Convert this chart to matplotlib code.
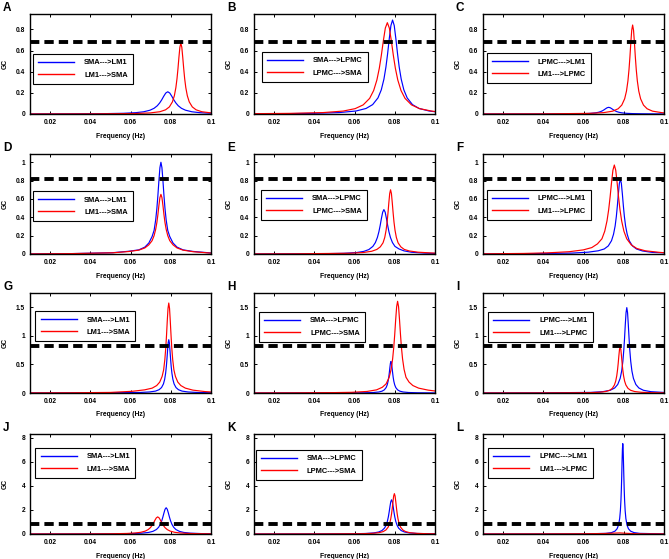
import matplotlib
matplotlib.use('Agg')
import matplotlib.pyplot as plt
from matplotlib.ticker import FuncFormatter, FixedLocator

plt.rcParams['font.family'] = ['Liberation Sans', 'DejaVu Sans']
plt.rcParams['font.weight'] = 'bold'

# ---------------- data (frequency in Hz, GC values) ----------------
A_blue_f = [0.01, 0.0305, 0.0465, 0.0565, 0.0625, 0.0665, 0.0697, 0.0717, 0.0733, 0.0745, 0.0755, 0.0765, 0.0775, 0.0785,
            0.0795, 0.0805, 0.0815, 0.0825, 0.0837, 0.0853, 0.0873, 0.0905, 0.0945, 0.1]
A_blue_gc = [0.0007, 0.0015, 0.0032, 0.0067, 0.0124, 0.021, 0.036, 0.054, 0.078, 0.105, 0.134, 0.168, 0.198, 0.21,
             0.198, 0.168, 0.134, 0.105, 0.078, 0.054, 0.036, 0.021, 0.0124, 0.007]
A_red_f = [0.01, 0.04, 0.0622, 0.0698, 0.07455, 0.0774, 0.0793, 0.08082, 0.08177, 0.08253, 0.0831, 0.08358, 0.08405, 0.08453, 0.085,
           0.08548, 0.08595, 0.08643, 0.0869, 0.08747, 0.08823, 0.08918, 0.0907, 0.0926, 0.09545, 0.1]
A_red_gc = [0.0004, 0.0012, 0.0046, 0.0103, 0.0214, 0.0394, 0.067, 0.1147, 0.1723, 0.249, 0.335, 0.429, 0.536, 0.631, 0.67,
            0.631, 0.536, 0.429, 0.335, 0.249, 0.1723, 0.1147, 0.067, 0.0394, 0.0214, 0.0106]

B_blue_f = [0.01, 0.025, 0.0393, 0.0525, 0.06075, 0.0657, 0.069, 0.07164, 0.07329, 0.07461, 0.0756, 0.07643, 0.07725, 0.07808, 0.0789,
            0.07973, 0.08055, 0.08138, 0.0822, 0.08319, 0.08451, 0.08616, 0.0888, 0.0921, 0.09705, 0.1]
B_blue_gc = [0.002, 0.0033, 0.0061, 0.0137, 0.0284, 0.0522, 0.0888, 0.152, 0.228, 0.330, 0.444, 0.568, 0.710, 0.836, 0.888,
             0.836, 0.710, 0.568, 0.444, 0.330, 0.228, 0.152, 0.0888, 0.0522, 0.0284, 0.0212]
B_red_f = [0.01, 0.0283, 0.0443, 0.0543, 0.0603, 0.0643, 0.0675, 0.0695, 0.0711, 0.0723, 0.0733, 0.0743, 0.0753, 0.0763,
           0.0773, 0.0783, 0.0793, 0.0803, 0.0815, 0.0831, 0.0851, 0.0883, 0.0923, 0.0983, 0.1]
B_red_gc = [0.0031, 0.006, 0.0133, 0.0276, 0.0507, 0.0863, 0.1477, 0.222, 0.321, 0.4315, 0.552, 0.690, 0.812, 0.863,
            0.812, 0.690, 0.552, 0.4315, 0.321, 0.222, 0.1477, 0.0863, 0.0507, 0.0276, 0.0239]

C_blue_f = [0.01, 0.0365, 0.0485, 0.056, 0.0605, 0.0635, 0.0659, 0.0674, 0.0686, 0.0695, 0.07025, 0.071, 0.07175, 0.0725,
            0.07325, 0.074, 0.07475, 0.0755, 0.0764, 0.0776, 0.0791, 0.0815, 0.0845, 0.089, 0.0965, 0.1]
C_blue_gc = [0.00015, 0.0004, 0.001, 0.002, 0.0037, 0.0063, 0.0108, 0.0162, 0.0234, 0.0315, 0.0403, 0.0504, 0.0593, 0.063,
             0.0593, 0.0504, 0.0403, 0.0315, 0.0234, 0.0162, 0.0108, 0.0063, 0.0037, 0.002, 0.001, 0.0007]
C_red_f = [0.01, 0.04, 0.0628, 0.070, 0.0745, 0.0772, 0.079, 0.08044, 0.08134, 0.08206, 0.0826, 0.08305, 0.0835, 0.08395, 0.0844,
           0.08485, 0.0853, 0.08575, 0.0862, 0.08674, 0.08746, 0.08836, 0.0898, 0.0916, 0.0943, 0.0988, 0.1]
C_red_gc = [0.0005, 0.0014, 0.0058, 0.013, 0.0269, 0.0495, 0.0841, 0.144, 0.216, 0.3126, 0.4205, 0.538, 0.673, 0.7915, 0.841,
            0.7915, 0.673, 0.538, 0.4205, 0.3126, 0.216, 0.144, 0.0841, 0.0495, 0.0269, 0.013, 0.011]

D_f = [0.01, 0.03, 0.0511, 0.0591, 0.0641, 0.0671, 0.0691, 0.0707, 0.0717, 0.0725, 0.0731, 0.0736, 0.0741, 0.0746, 0.0751,
       0.0756, 0.0761, 0.0766, 0.0771, 0.0777, 0.0785, 0.0795, 0.0811, 0.0831, 0.0861, 0.0911, 0.0991, 0.1]
D_blue_gc = [0.001, 0.004, 0.014, 0.030, 0.045, 0.075, 0.12, 0.19, 0.257, 0.372, 0.5, 0.64, 0.8, 0.941, 1.0,
             0.941, 0.8, 0.64, 0.5, 0.372, 0.257, 0.19, 0.12, 0.075, 0.045, 0.028, 0.013, 0.011]
D_red_gc = [0.001, 0.004, 0.013, 0.027, 0.042, 0.066, 0.1, 0.145, 0.2, 0.27, 0.345, 0.43, 0.53, 0.615, 0.65,
            0.615, 0.53, 0.43, 0.345, 0.27, 0.2, 0.145, 0.1, 0.066, 0.042, 0.025, 0.011, 0.01]

E_blue_f = [0.01, 0.0446, 0.0546, 0.06085, 0.0646, 0.0671, 0.0691, 0.07035, 0.07135, 0.0721, 0.07273, 0.07335, 0.07398, 0.0746,
            0.07523, 0.07585, 0.07648, 0.0771, 0.07785, 0.07885, 0.0801, 0.0821, 0.0846, 0.08835, 0.0946, 0.1]
E_blue_gc = [0.0007, 0.0033, 0.0075, 0.0155, 0.0285, 0.0484, 0.0829, 0.1244, 0.180, 0.242, 0.31, 0.387, 0.4555, 0.484,
             0.4555, 0.387, 0.31, 0.242, 0.180, 0.1244, 0.0829, 0.055, 0.034, 0.019, 0.010, 0.006]
E_red_f = [0.01, 0.03, 0.0575, 0.0643, 0.06855, 0.0711, 0.0728, 0.07416, 0.07501, 0.07569, 0.0762, 0.07663, 0.07705, 0.07748, 0.0779,
           0.07833, 0.07875, 0.07918, 0.0796, 0.08011, 0.08079, 0.08164, 0.083, 0.0847, 0.08725, 0.0915, 0.0983, 0.1]
E_red_gc = [0.001, 0.002, 0.008, 0.016, 0.03, 0.05, 0.078, 0.122, 0.18, 0.26, 0.35, 0.448, 0.56, 0.659, 0.70,
            0.659, 0.56, 0.448, 0.35, 0.26, 0.18, 0.122, 0.078, 0.05, 0.033, 0.02, 0.011, 0.01]

F_blue_f = [0.01, 0.03, 0.0543, 0.0623, 0.0673, 0.0703, 0.0723, 0.0739, 0.0749, 0.0757, 0.0763, 0.0768, 0.0773, 0.0778, 0.0783,
            0.0788, 0.0793, 0.0798, 0.0803, 0.0809, 0.0817, 0.0827, 0.0843, 0.0863, 0.0893, 0.0943, 0.1]
F_blue_gc = [0.001, 0.003, 0.01, 0.02, 0.035, 0.055, 0.088, 0.145, 0.215, 0.305, 0.4085, 0.523, 0.654, 0.769, 0.817,
             0.769, 0.654, 0.523, 0.4085, 0.305, 0.215, 0.145, 0.088, 0.055, 0.033, 0.017, 0.013]
F_red_f = [0.01, 0.03, 0.0417, 0.0529, 0.0599, 0.0641, 0.0669, 0.06914, 0.07054, 0.07166, 0.0725, 0.0732, 0.0739, 0.0746, 0.0753,
           0.076, 0.0767, 0.0774, 0.0781, 0.07894, 0.08006, 0.08146, 0.0837, 0.0865, 0.0907, 0.0977, 0.1]
F_red_gc = [0.002, 0.006, 0.012, 0.025, 0.045, 0.07, 0.11, 0.166, 0.249, 0.361, 0.485, 0.621, 0.776, 0.913, 0.97,
            0.913, 0.776, 0.621, 0.485, 0.361, 0.249, 0.166, 0.1, 0.06, 0.035, 0.018, 0.014]

G_blue_f = [0.01, 0.04, 0.055, 0.0646, 0.0694, 0.0724, 0.0742, 0.0754, 0.07636, 0.07696, 0.07744, 0.0778, 0.0781, 0.0784, 0.0787, 0.079,
            0.0793, 0.0796, 0.0799, 0.0802, 0.08056, 0.08104, 0.08164, 0.0826, 0.0838, 0.0856, 0.0886, 0.0934, 0.1]
G_blue_gc = [0.001, 0.003, 0.006, 0.009, 0.018, 0.033, 0.058, 0.095, 0.159, 0.239, 0.346, 0.465, 0.595, 0.744, 0.875, 0.93,
             0.875, 0.744, 0.595, 0.465, 0.346, 0.239, 0.159, 0.095, 0.058, 0.033, 0.018, 0.009, 0.005]
G_red_f = [0.01, 0.03, 0.05, 0.061, 0.067, 0.07075, 0.073, 0.0745, 0.0757, 0.07645, 0.07705, 0.0775, 0.07788, 0.07825, 0.07863, 0.079,
           0.07938, 0.07975, 0.08013, 0.0805, 0.08095, 0.08155, 0.0823, 0.0835, 0.085, 0.08725, 0.091, 0.097, 0.1]
G_red_gc = [0.002, 0.004, 0.01, 0.03, 0.055, 0.085, 0.13, 0.19, 0.29, 0.404, 0.584, 0.785, 1.005, 1.256, 1.478, 1.57,
            1.478, 1.256, 1.005, 0.785, 0.584, 0.404, 0.29, 0.19, 0.13, 0.085, 0.05, 0.025, 0.018]

H_blue_f = [0.01, 0.04, 0.0649, 0.0693, 0.07205, 0.0737, 0.0748, 0.07568, 0.07623, 0.07667, 0.077, 0.07728, 0.07755, 0.07783, 0.0781,
            0.07838, 0.07865, 0.07893, 0.0792, 0.07953, 0.07997, 0.08052, 0.0814, 0.0825, 0.08415, 0.0869, 0.0913, 0.1]
H_blue_gc = [0.0005, 0.002, 0.004, 0.0085, 0.0176, 0.0323, 0.055, 0.094, 0.141, 0.204, 0.275, 0.352, 0.44, 0.518, 0.55,
             0.518, 0.44, 0.352, 0.275, 0.204, 0.141, 0.094, 0.055, 0.0323, 0.0176, 0.0085, 0.004, 0.0014]
H_red_f = [0.01, 0.03, 0.05, 0.0586, 0.0662, 0.07095, 0.0738, 0.0757, 0.07722, 0.07817, 0.07893, 0.0795, 0.07998, 0.08045, 0.08093, 0.0814,
           0.08188, 0.08235, 0.08283, 0.0833, 0.08387, 0.08463, 0.08558, 0.0871, 0.089, 0.09185, 0.0966, 0.1]
H_red_gc = [0.001, 0.003, 0.007, 0.012, 0.027, 0.055, 0.1, 0.16, 0.274, 0.411, 0.595, 0.8, 1.024, 1.28, 1.506, 1.6,
            1.506, 1.28, 1.024, 0.8, 0.595, 0.411, 0.274, 0.19, 0.13, 0.085, 0.05, 0.035]

I_blue_f = [0.01, 0.04, 0.0635, 0.0695, 0.07325, 0.0755, 0.077, 0.0782, 0.07895, 0.07955, 0.08, 0.08038, 0.08075, 0.08113, 0.0815,
            0.08188, 0.08225, 0.08263, 0.083, 0.08345, 0.08405, 0.0848, 0.086, 0.0875, 0.08975, 0.0935, 0.1]
I_blue_gc = [0.001, 0.003, 0.0103, 0.023, 0.0477, 0.0876, 0.149, 0.255, 0.383, 0.554, 0.745, 0.954, 1.192, 1.402, 1.49,
             1.402, 1.192, 0.954, 0.745, 0.554, 0.383, 0.255, 0.149, 0.0876, 0.0477, 0.023, 0.0098]
I_red_f = [0.01, 0.04, 0.0626, 0.0678, 0.07105, 0.073, 0.0743, 0.07534, 0.07599, 0.07651, 0.0769, 0.07723, 0.07755, 0.07788, 0.0782,
           0.07853, 0.07885, 0.07918, 0.0795, 0.07989, 0.08041, 0.08106, 0.0821, 0.0834, 0.08535, 0.0886, 0.0938, 0.1]
I_red_gc = [0.0005, 0.002, 0.0056, 0.0125, 0.026, 0.0476, 0.081, 0.139, 0.208, 0.301, 0.405, 0.518, 0.648, 0.762, 0.81,
            0.762, 0.648, 0.518, 0.405, 0.301, 0.208, 0.139, 0.081, 0.0476, 0.026, 0.0125, 0.0056, 0.0028]

J_blue_f = [0.01, 0.03, 0.0513, 0.0601, 0.0656, 0.0689, 0.0711, 0.07286, 0.07396, 0.07484, 0.0755, 0.07605, 0.0766, 0.07715, 0.0777,
            0.07825, 0.0788, 0.07935, 0.0799, 0.08056, 0.08144, 0.08254, 0.0843, 0.0865, 0.0898, 0.0953, 0.1]
J_blue_gc = [0.002, 0.005, 0.015, 0.0336, 0.0698, 0.128, 0.218, 0.373, 0.560, 0.810, 1.09, 1.395, 1.744, 2.052, 2.18,
             2.052, 1.744, 1.395, 1.09, 0.810, 0.560, 0.373, 0.218, 0.128, 0.0698, 0.0336, 0.021]
J_red_f = [0.01, 0.025, 0.0399, 0.0511, 0.0581, 0.0623, 0.0651, 0.06734, 0.06874, 0.06986, 0.0707, 0.0714, 0.0721, 0.0728, 0.0735,
           0.0742, 0.0749, 0.0756, 0.0763, 0.07714, 0.07826, 0.07966, 0.0819, 0.0847, 0.0889, 0.0959, 0.1]
J_red_gc = [0.0028, 0.005, 0.0098, 0.0219, 0.0454, 0.0835, 0.142, 0.243, 0.365, 0.528, 0.71, 0.909, 1.136, 1.337, 1.42,
            1.337, 1.136, 0.909, 0.71, 0.528, 0.365, 0.243, 0.142, 0.0835, 0.0454, 0.0219, 0.0156]

K_blue_f = [0.01, 0.04, 0.0592, 0.0656, 0.0696, 0.072, 0.0736, 0.07488, 0.07568, 0.07632, 0.0768, 0.0772, 0.0776, 0.078, 0.0784,
            0.0788, 0.0792, 0.0796, 0.08, 0.08048, 0.08112, 0.08192, 0.0832, 0.0848, 0.0872, 0.0912, 0.0976, 0.1]
K_blue_gc = [0.002, 0.006, 0.0196, 0.0437, 0.0909, 0.167, 0.284, 0.486, 0.730, 1.056, 1.42, 1.818, 2.272, 2.673, 2.84,
             2.673, 2.272, 1.818, 1.42, 1.056, 0.730, 0.486, 0.284, 0.167, 0.0909, 0.0437, 0.0196, 0.0156]
K_red_f = [0.01, 0.04, 0.063, 0.0686, 0.0721, 0.0742, 0.0756, 0.07672, 0.07742, 0.07798, 0.0784, 0.07875, 0.0791, 0.07945, 0.0798,
           0.08015, 0.0805, 0.08085, 0.0812, 0.08162, 0.08218, 0.08288, 0.084, 0.0854, 0.0875, 0.091, 0.0966, 0.1]
K_red_gc = [0.002, 0.006, 0.0231, 0.0516, 0.107, 0.197, 0.335, 0.574, 0.861, 1.245, 1.675, 2.144, 2.68, 3.153, 3.35,
            3.153, 2.68, 2.144, 1.675, 1.245, 0.861, 0.574, 0.335, 0.197, 0.107, 0.0516, 0.0231, 0.016]

L_blue_f = [0.01, 0.04, 0.06, 0.0711, 0.0739, 0.07565, 0.0767, 0.0774, 0.07796, 0.07831, 0.07859, 0.0788, 0.07898, 0.07915, 0.07933, 0.0795,
            0.07968, 0.07985, 0.08003, 0.0802, 0.08041, 0.08069, 0.08104, 0.0816, 0.0823, 0.08335, 0.0851, 0.0879, 0.1]
L_blue_gc = [0.001, 0.003, 0.01, 0.0518, 0.1155, 0.24, 0.441, 0.75, 1.284, 1.928, 2.788, 3.75, 4.8, 6.0, 7.059, 7.5,
             7.059, 6.0, 4.8, 3.75, 2.788, 1.928, 1.284, 0.75, 0.441, 0.24, 0.1155, 0.0518, 0.009]
L_red_f = [0.01, 0.04, 0.06, 0.07, 0.075, 0.078, 0.081, 0.085, 0.09, 0.1]
L_red_gc = [0.005, 0.01, 0.02, 0.04, 0.07, 0.09, 0.06, 0.03, 0.015, 0.008]

PANEL_LETTERS = ['A', 'B', 'C', 'D', 'E', 'F', 'G', 'H', 'I', 'J', 'K', 'L']
BLUE_F = [A_blue_f, B_blue_f, C_blue_f, D_f, E_blue_f, F_blue_f,
          G_blue_f, H_blue_f, I_blue_f, J_blue_f, K_blue_f, L_blue_f]
BLUE_GC = [A_blue_gc, B_blue_gc, C_blue_gc, D_blue_gc, E_blue_gc, F_blue_gc,
           G_blue_gc, H_blue_gc, I_blue_gc, J_blue_gc, K_blue_gc, L_blue_gc]
RED_F = [A_red_f, B_red_f, C_red_f, D_f, E_red_f, F_red_f,
         G_red_f, H_red_f, I_red_f, J_red_f, K_red_f, L_red_f]
RED_GC = [A_red_gc, B_red_gc, C_red_gc, D_red_gc, E_red_gc, F_red_gc,
          G_red_gc, H_red_gc, I_red_gc, J_red_gc, K_red_gc, L_red_gc]

COLUMN_LABELS = [('SMA--->LM1', 'LM1--->SMA'),
                 ('SMA--->LPMC', 'LPMC--->SMA'),
                 ('LPMC--->LM1', 'LM1--->LPMC')]
ROW_THRESHOLD = [0.68, 0.82, 0.82, 0.82]
ROW_YMAX = [0.945, 1.09, 1.745, 8.3]
ROW_YTICKS = [[0, 0.2, 0.4, 0.6, 0.8],
              [0, 0.2, 0.4, 0.6, 0.8, 1],
              [0, 0.5, 1, 1.5],
              [0, 2, 4, 6, 8]]
XTICKS = [0.02, 0.04, 0.06, 0.08, 0.1]
XLIM = (0.01, 0.1)

# ---------------- layout (pixels) ----------------
W, H = 669, 559
COL_LEFT = [30, 254, 483]
ROW_TOP = [14, 154, 293, 434]
AX_W, AX_H = 181, 100
LEG_ANCHOR = [(0.017, 0.60), (0.044, 0.62), (0.02, 0.61),
              (0.017, 0.63), (0.039, 0.64), (0.022, 0.64),
              (0.03, 0.82), (0.028, 0.81), (0.028, 0.81),
              (0.03, 0.86), (0.011, 0.84), (0.028, 0.86)]

fig = plt.figure(figsize=(W / 100, H / 100), dpi=100)
fmt = FuncFormatter(lambda v, p: f'{v:g}')

for i, letter in enumerate(PANEL_LETTERS):
    r, c = divmod(i, 3)
    left = COL_LEFT[c] / W
    bottom = 1 - (ROW_TOP[r] + AX_H) / H
    ax = fig.add_axes([left, bottom, AX_W / W, AX_H / H])
    lb, lr = COLUMN_LABELS[c]
    ax.plot(BLUE_F[i], BLUE_GC[i], color='#0000ff', lw=0.85, label=lb)
    ax.plot(RED_F[i], RED_GC[i], color='#ff0000', lw=0.85, label=lr)
    ax.axhline(ROW_THRESHOLD[r], color='black', lw=2.8,
               linestyle=(0, (2.4, 1.3)), zorder=5)
    ax.set_xlim(*XLIM)
    ax.set_ylim(0, ROW_YMAX[r])
    ax.xaxis.set_major_locator(FixedLocator(XTICKS))
    ax.yaxis.set_major_locator(FixedLocator(ROW_YTICKS[r]))
    ax.xaxis.set_major_formatter(fmt)
    ax.yaxis.set_major_formatter(fmt)
    ax.tick_params(direction='in', length=2.2, width=0.7, top=True, right=True,
                   labelsize=4.8, pad=3.5)
    for s in ax.spines.values():
        s.set_linewidth(1.0)
    ax.set_xlabel('Frequency (Hz)', fontsize=4.9, fontweight='bold')
    ax.set_ylabel('GC', fontsize=4.9, fontweight='bold')
    ax.xaxis.set_label_coords(0.5, -0.185)
    ax.yaxis.set_label_coords(-0.12, 0.5)
    leg = ax.legend(loc='upper left', bbox_to_anchor=LEG_ANCHOR[i],
                    borderaxespad=0, fontsize=5.4, handlelength=4.8,
                    handletextpad=1.3, borderpad=0.7, labelspacing=0.7,
                    fancybox=False, framealpha=1, edgecolor='black')
    leg.get_frame().set_linewidth(0.8)
    for ln in leg.get_lines():
        ln.set_linewidth(1.0)
    fig.text((COL_LEFT[c] - 27) / W, 1 - (ROW_TOP[r] - 12) / H, letter,
             fontsize=8.5, fontweight='bold', ha='left', va='top')

fig.savefig('out.png', dpi=100)
